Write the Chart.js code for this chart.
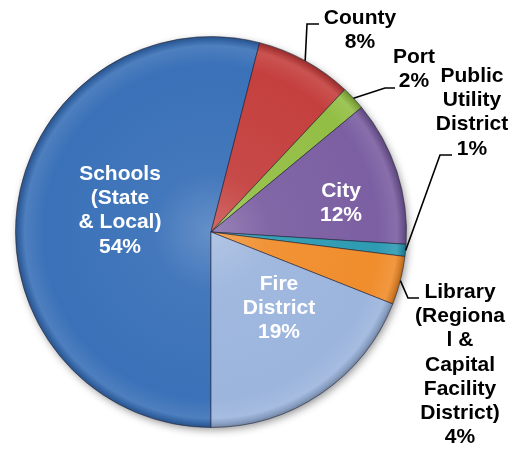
<!DOCTYPE html>
<html>
<head>
<meta charset="utf-8">
<script src="https://cdn.jsdelivr.net/npm/chart.js@4"></script>
<style>
  html, body { margin: 0; padding: 0; background: #fff; }
  #wrap { width: 518px; height: 449px; position: relative; }
</style>
</head>
<body>
<div id="wrap"><canvas id="pie"></canvas></div>
<script>
// tax shares by district, clockwise from the bottom
var categories = ['Schools (State & Local)', 'County', 'Port', 'City', 'Public Utility District',
  'Library (Regional & Capital Facility District)', 'Fire District'];
var shares = [54, 8, 2, 12, 1, 4, 19];
var sliceColors = ['#3A71B8', '#C4403E', '#93BE45', '#7B5FA2', '#2E9BB3', '#F08D2C', '#9CB5DD'];

// wrapped label text (percent line gets added from shares)
var labelLines = [
  ['Schools', '(State', '& Local)'],
  ['County'],
  ['Port'],
  ['City'],
  ['Public', 'Utility', 'District'],
  ['Library', '(Regiona', 'l &', 'Capital', 'Facility', 'District)'],
  ['Fire', 'District']
];

// where each label sits: centre x, first baseline, colour, leader elbow points
var labelLayout = [
  { x: 120, y: 180, color: '#fff' },
  { x: 360, y: 24, color: '#000', leader: [[307, 24], [319, 24]] },
  { x: 414, y: 63, color: '#000', leader: [[385, 88], [395, 88]] },
  { x: 341, y: 197, color: '#fff' },
  { x: 472, y: 82, color: '#000', leader: [[440, 155], [452, 155]] },
  { x: 460, y: 298, color: '#000', leader: [[408, 298], [419, 298]] },
  { x: 279, y: 290, color: '#fff' }
];
var LINE_H = 24.2;

function shade(hex, amt) {
  var n = parseInt(hex.slice(1), 16);
  var r = n >> 16, g = (n >> 8) & 255, b = n & 255;
  function f(c) {
    var v = amt >= 0 ? c + (255 - c) * amt : c * (1 + amt);
    return Math.round(Math.max(0, Math.min(255, v)));
  }
  return 'rgb(' + f(r) + ',' + f(g) + ',' + f(b) + ')';
}

// radial shading: light middle, bevel highlight near the rim, dark edge
function sliceFill(ctx) {
  var base = sliceColors[ctx.dataIndex];
  var area = ctx.chart.chartArea;
  if (!area) return base;
  var cx = (area.left + area.right) / 2, cy = (area.top + area.bottom) / 2;
  var r = Math.min(area.right - area.left, area.bottom - area.top) / 2;
  var g = ctx.chart.ctx.createRadialGradient(cx, cy, 0, cx, cy, r);
  g.addColorStop(0, shade(base, 0.22));
  g.addColorStop(0.3, shade(base, 0.05));
  g.addColorStop(0.85, base);
  g.addColorStop(0.95, shade(base, 0.1));
  g.addColorStop(0.98, shade(base, -0.12));
  g.addColorStop(1, shade(base, -0.3));
  return g;
}

// soft shadow under the pie
var pieShadow = {
  id: 'pieShadow',
  beforeDatasetsDraw: function (chart) {
    var arc = chart.getDatasetMeta(0).data[0];
    if (!arc) return;
    var c = chart.ctx;
    c.save();
    c.shadowColor = 'rgba(0,0,0,0.45)';
    c.shadowBlur = 8;
    c.shadowOffsetX = 2;
    c.shadowOffsetY = 3;
    c.beginPath();
    c.arc(arc.x, arc.y, arc.outerRadius - 1, 0, Math.PI * 2);
    c.fillStyle = '#777';
    c.fill();
    c.restore();
  }
};

// slice labels + leader lines
var sliceLabels = {
  id: 'sliceLabels',
  afterDatasetsDraw: function (chart) {
    var c = chart.ctx;
    var arcs = chart.getDatasetMeta(0).data;
    c.save();
    c.font = 'bold 21px "Liberation Sans", Arial, sans-serif';
    c.textAlign = 'center';
    c.textBaseline = 'alphabetic';
    labelLayout.forEach(function (lay, i) {
      var lines = labelLines[i].concat([shares[i] + '%']);
      if (lay.leader) {
        var a = arcs[i];
        var mid = (a.startAngle + a.endAngle) / 2;
        c.beginPath();
        c.moveTo(a.x + Math.cos(mid) * a.outerRadius, a.y + Math.sin(mid) * a.outerRadius);
        lay.leader.forEach(function (p) { c.lineTo(p[0], p[1]); });
        c.lineWidth = 1.6;
        c.strokeStyle = '#000';
        c.stroke();
      }
      c.fillStyle = lay.color;
      lines.forEach(function (t, k) {
        c.fillText(t, lay.x, lay.y + k * LINE_H);
      });
    });
    c.restore();
  }
};

new Chart(document.getElementById('pie'), {
  type: 'pie',
  data: {
    labels: categories,
    datasets: [{
      data: shares,
      backgroundColor: sliceFill,
      borderColor: 'rgba(30,30,50,0.55)',
      borderWidth: 1
    }]
  },
  options: {
    responsive: true,
    maintainAspectRatio: false,
    animation: false,
    rotation: 180,
    layout: { padding: { left: 15, right: 111, top: 36, bottom: 21 } },
    plugins: {
      legend: { display: false },
      tooltip: { enabled: false }
    }
  },
  plugins: [pieShadow, sliceLabels]
});
</script>
</body>
</html>
